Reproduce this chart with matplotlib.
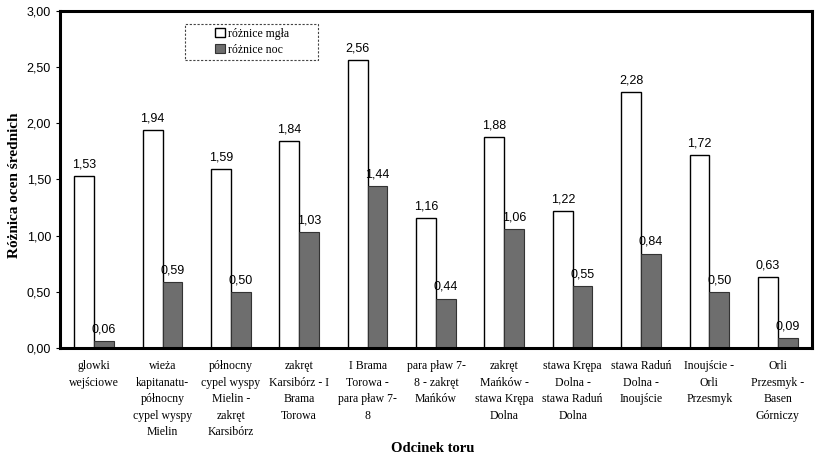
import numpy as np
from matplotlib import pyplot as plt
from matplotlib.patches import Rectangle

# Odcinki toru (category labels, line breaks as in the original)
odcinki = [
    "glowki\nwejściowe",
    "wieża\nkapitanatu-\npółnocny\ncypel wyspy\nMielin",
    "północny\ncypel wyspy\nMielin -\nzakręt\nKarsibórz",
    "zakręt\nKarsibórz - I\nBrama\nTorowa",
    "I Brama\nTorowa -\npara pław 7-\n8",
    "para pław 7-\n8 - zakręt\nMańków",
    "zakręt\nMańków -\nstawa Krępa\nDolna",
    "stawa Krępa\nDolna -\nstawa Raduń\nDolna",
    "stawa Raduń\nDolna -\nInoujście",
    "Inoujście -\nOrli\nPrzesmyk",
    "Orli\nPrzesmyk -\nBasen\nGórniczy",
]
roznice_mgla = [1.53, 1.94, 1.59, 1.84, 2.56, 1.16, 1.88, 1.22, 2.28, 1.72, 0.63]
roznice_noc = [0.06, 0.59, 0.50, 1.03, 1.44, 0.44, 1.06, 0.55, 0.84, 0.50, 0.09]
y_ticks = [0.0, 0.5, 1.0, 1.5, 2.0, 2.5, 3.0]

serif = "Liberation Serif"
sans = "Liberation Sans"

fig = plt.figure(figsize=(8.16, 4.59), dpi=100)
ax = fig.add_axes([0.0735, 0.242, 0.9215, 0.734])

x = np.arange(len(odcinki))
w = 0.29
b1 = ax.bar(x - w / 2, roznice_mgla, w, color="white", edgecolor="black",
            linewidth=1.0, label="różnice mgła")
b2 = ax.bar(x + w / 2, roznice_noc, w, color="#6e6e6e", edgecolor="#333333",
            linewidth=0.8, label="różnice noc")

fmt = lambda v: f"{v:.2f}".replace(".", ",")
for bars, vals in ((b1, roznice_mgla), (b2, roznice_noc)):
    for r, v in zip(bars, vals):
        ax.text(r.get_x() + r.get_width() / 2, v + 0.05, fmt(v), ha="center",
                va="bottom", fontsize=9, family=sans)

ax.set_xlim(-0.5, len(odcinki) - 0.5)
ax.set_ylim(0, 3.0)
ax.set_yticks(y_ticks)
ax.set_yticklabels([fmt(t) for t in y_ticks], family=sans, fontsize=9)
ax.set_xticks(x)
ax.set_xticklabels(odcinki, family=serif, fontsize=8.5, linespacing=1.5)
ax.tick_params(axis="x", length=0, pad=9)
ax.tick_params(axis="y", length=3, width=0.8)

for s in ax.spines.values():
    s.set_linewidth(2.2)

fig.text(15 / 816, 1 - 185 / 459, "Różnica ocen średnich", family=serif,
         fontsize=11, fontweight="bold", rotation=90, ha="center", va="center")
fig.text(0.53, 1 - 449 / 459, "Odcinek toru", family=serif, fontsize=10.5,
         fontweight="bold", ha="center", va="center")

# legend without frame + dashed box drawn around it
leg = ax.legend(loc="center", bbox_to_anchor=(0.256, 0.908),
                prop={"family": serif, "size": 8.5}, frameon=False,
                handlelength=0.8, handleheight=0.8, handletextpad=0.3,
                labelspacing=0.35, borderaxespad=0)
ax.add_patch(Rectangle((0.166, 0.854), 0.177, 0.107, transform=ax.transAxes,
                       fill=False, edgecolor="#444444", linewidth=0.8,
                       linestyle=(0, (2, 1.5)), zorder=5))

fig.savefig("out.png", dpi=100)
